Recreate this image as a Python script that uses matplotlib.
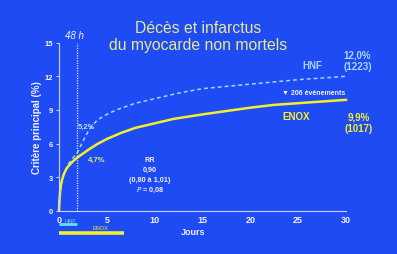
import matplotlib
matplotlib.use("Agg")
import matplotlib.pyplot as plt

# ---- data ----
hnf_days = [0, 0.1, 0.3, 0.6, 1, 1.5, 2, 2.5, 3, 3.5, 4, 5, 6, 8, 10, 12.5, 15, 20, 25, 30]
hnf_vals = [0, 1.5, 2.7, 3.5, 4.2, 4.75, 5.3, 6.2, 7.0, 7.6, 8.1, 8.6, 9.0, 9.6, 10.0, 10.5, 10.9, 11.3, 11.7, 12.0]

enox_days = [0, 0.05, 0.15, 0.3, 0.5, 0.75, 1, 1.5, 2, 2.5, 3, 4, 5, 6.5, 8, 10, 12, 15, 17.5, 20, 22.5, 25, 27.5, 30]
enox_vals = [0, 1.0, 2.0, 2.7, 3.25, 3.7, 4.0, 4.45, 4.8, 5.1, 5.4, 5.95, 6.4, 6.95, 7.4, 7.8, 8.2, 8.6, 8.9, 9.2, 9.45, 9.6, 9.75, 9.9]

x_ticks = [0, 5, 10, 15, 20, 25, 30]
y_ticks = [0, 3, 6, 9, 12, 15]
marker_48h = 1.85
treatment_hnf = 1.9
treatment_enox = 6.8

BG = "#1F4BF5"
YEL = "#F2F02A"
LBLUE = "#A8D4FF"
WHITE = "#F0F0FF"

plt.rcParams['font.family'] = ['Liberation Sans', 'DejaVu Sans']

fig = plt.figure(figsize=(3.97, 2.55), dpi=100, facecolor=BG)
ax = fig.add_axes([0.1486, 0.1698, 0.7229, 0.6588], facecolor=BG)
ax.set_xlim(0, 30)
ax.set_ylim(0, 15)
for s in ["top", "right"]:
    ax.spines[s].set_visible(False)
for s in ["left", "bottom"]:
    ax.spines[s].set_color("#C8D4FF")
    ax.spines[s].set_linewidth(0.8)

ax.set_xticks(x_ticks)
ax.set_yticks(y_ticks)
ax.tick_params(axis="x", length=0, pad=3, labelsize=6.5, labelcolor=WHITE)
ax.tick_params(axis="y", length=2, width=0.6, color=WHITE, pad=2, labelsize=5.5, labelcolor=WHITE)
for lab in ax.get_xticklabels() + ax.get_yticklabels():
    lab.set_fontweight("bold")

# 48h dotted line
ax.plot([marker_48h, marker_48h], [0, 15], color="#D8E0FF", lw=0.9, ls=(0, (1, 1)), clip_on=False)
ax.text(marker_48h - 0.2, 15.25, "48 h", color=WHITE, fontsize=7, style="italic",
        ha="center", va="bottom")

# curves
ax.plot(hnf_days, hnf_vals, color=LBLUE, lw=1.1, ls=(0, (2.5, 2)), clip_on=False)
ax.plot(enox_days, enox_vals, color=YEL, lw=1.8, clip_on=False)

# title
fig.text(0.5, 0.855, "Décès et infarctus\ndu myocarde non mortels", color="#E4EA8A",
         fontsize=11.3, ha="center", va="center", linespacing=1.1)

# annotations
ax.text(2.0, 7.5, "5,2%", color="#C0DCFF", fontsize=5.5, fontweight="bold", ha="left", va="center")
ax.text(3.0, 4.6, "4,7%", color="#DDF060", fontsize=5.5, fontweight="bold", ha="left", va="center")
for txt, yv in [("RR", 4.6), ("0,90", 3.7), ("(0,80 à 1,01)", 2.8), ("$\\it{P}$ = 0,08", 1.9)]:
    ax.text(9.5, yv, txt, color=WHITE, fontsize=5.2, fontweight="bold", ha="center", va="center")

ax.text(26.5, 13.0, "HNF", color=LBLUE, fontsize=7, fontweight="bold", ha="center", va="center")
ax.text(31.2, 13.4, "12,0%\n(1223)", color=LBLUE, fontsize=7, fontweight="bold",
        ha="center", va="center", clip_on=False, linespacing=1.2)
ax.text(23.3, 10.6, "▼ 206 événements", color=WHITE, fontsize=5, fontweight="bold",
        ha="left", va="center")
ax.text(24.8, 8.45, "ENOX", color=YEL, fontsize=7, fontweight="bold", ha="center", va="center")
ax.text(31.3, 7.9, "9,9%\n(1017)", color=YEL, fontsize=7, fontweight="bold",
        ha="center", va="center", clip_on=False, linespacing=1.2)

ax.text(14.0, -1.85, "Jours", color=WHITE, fontsize=6.5, fontweight="bold",
        ha="center", va="center", clip_on=False)
ax.set_ylabel("Critère principal (%)", color=WHITE, fontsize=7, fontweight="bold", labelpad=2)

# treatment duration bars
ax.plot([0, treatment_hnf], [-1.23, -1.23], color="#60E4F4", lw=2, clip_on=False, solid_capstyle="butt")
ax.plot([0, treatment_enox], [-2.0, -2.0], color=YEL, lw=2.6, clip_on=False, solid_capstyle="butt")
ax.text(0.55, -0.85, "HNF", color="#80D0FF", fontsize=4, ha="left", va="center", clip_on=False)
ax.text(4.3, -1.5, "ENOX", color=YEL, fontsize=4, ha="center", va="center", clip_on=False)

fig.savefig("out.png", dpi=100, facecolor=BG)
